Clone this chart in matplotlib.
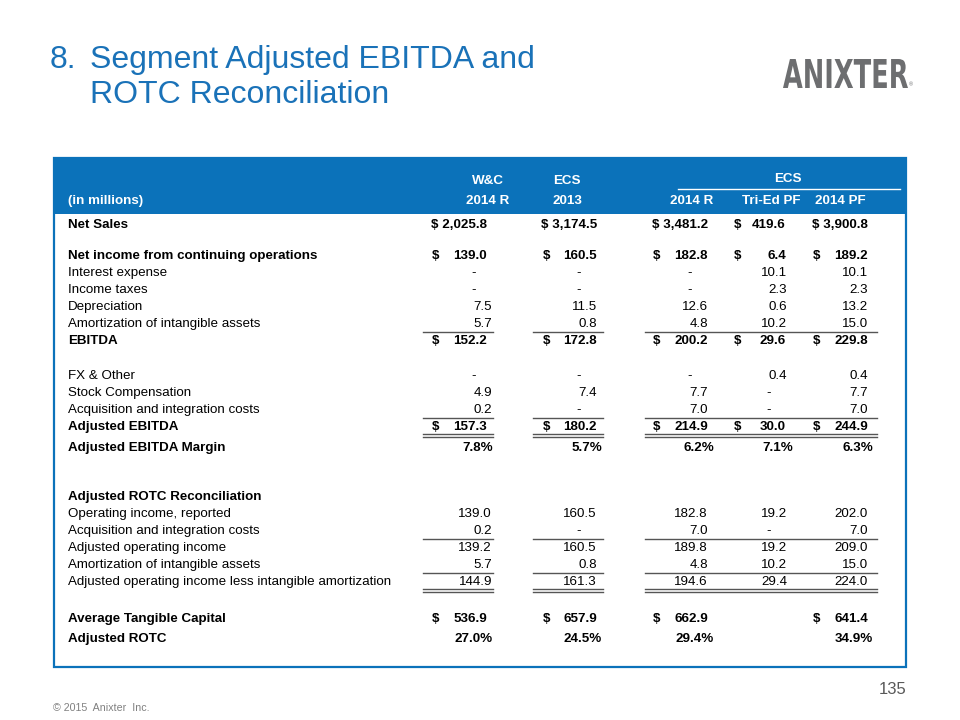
"""Segment Adjusted EBITDA and ROTC reconciliation slide, rebuilt as a matplotlib table"""

import matplotlib.pyplot as plt
from matplotlib.patches import Rectangle, PathPatch
from matplotlib.textpath import TextPath
from matplotlib.font_manager import FontProperties
from matplotlib.transforms import Affine2D

plt.rcParams['font.family'] = ['Liberation Sans', 'DejaVu Sans']

# Data (None = dash, '' = blank cell)
row_labels = ['Net Sales', 'Net income from continuing operations', 'Interest expense', 'Income taxes',
              'Depreciation', 'Amortization of intangible assets', 'EBITDA',
              'FX & Other', 'Stock Compensation', 'Acquisition and integration costs', 'Adjusted EBITDA',
              'Adjusted EBITDA Margin',
              'Adjusted ROTC Reconciliation', 'Operating income, reported', 'Acquisition and integration costs',
              'Adjusted operating income', 'Amortization of intangible assets',
              'Adjusted operating income less intangible amortization',
              'Average Tangible Capital', 'Adjusted ROTC']
wc_2014r = [2025.8, 139.0, None, None, 7.5, 5.7, 152.2, None, 4.9, 0.2, 157.3, 7.8,
            '', 139.0, 0.2, 139.2, 5.7, 144.9, 536.9, 27.0]
ecs_2013 = [3174.5, 160.5, None, None, 11.5, 0.8, 172.8, None, 7.4, None, 180.2, 5.7,
            '', 160.5, None, 160.5, 0.8, 161.3, 657.9, 24.5]
ecs_2014r = [3481.2, 182.8, None, None, 12.6, 4.8, 200.2, None, 7.7, 7.0, 214.9, 6.2,
             '', 182.8, 7.0, 189.8, 4.8, 194.6, 662.9, 29.4]
ecs_tried_pf = [419.6, 6.4, 10.1, 2.3, 0.6, 10.2, 29.6, 0.4, None, None, 30.0, 7.1,
                '', 19.2, None, 19.2, 10.2, 29.4, '', '']
ecs_2014pf = [3900.8, 189.2, 10.1, 2.3, 13.2, 15.0, 229.8, 0.4, 7.7, 7.0, 244.9, 6.3,
              '', 202.0, 7.0, 209.0, 15.0, 224.0, 641.4, 34.9]
columns = [wc_2014r, ecs_2013, ecs_2014r, ecs_tried_pf, ecs_2014pf]

group_labels = ['W&C', 'ECS']
col_labels = ['2014 R', '2013', '2014 R', 'Tri-Ed PF', '2014 PF']

# Row styles
bold_rows = [0, 1, 6, 10, 11, 12, 18, 19]
dollar_rows = [0, 1, 6, 10, 18]
pct_rows = [11, 19]
single_lines = [5, 9, 14, 16]
double_lines = [10, 17]

# Layout (pixels of a 960x720 slide)
row_y = [225, 256, 273, 290, 307, 324, 341, 376, 393, 410, 427, 448,
         497, 514, 531, 548, 565, 582, 619, 639]
num_right = [492, 597, 708, 787, 868]
bold_right = [487, 597, 708, 786, 868]
pct_right = [493, 602, 714, 793, 873]
dollar_x = [432, 543, 653, 734, 813]
line_spans = [(423, 493), (533, 603), (645, 877)]
blue = '#0b72ba'
fs = 9.6

fig = plt.figure(figsize=(9.6, 7.2), dpi=100)
ax = fig.add_axes([0, 0, 1, 1])
ax.set_xlim(0, 960)
ax.set_ylim(720, 0)
ax.axis('off')

# Title
ax.text(50, 68, '8.', fontsize=23, color='#1a72b8', va='baseline')
ax.text(90, 68, 'Segment Adjusted EBITDA and', fontsize=23, color='#1a72b8', va='baseline')
ax.text(90, 103, 'ROTC Reconciliation', fontsize=23, color='#1a72b8', va='baseline')

# Logo drawn as a squeezed text path
logo = TextPath((0, 0), 'ANIXTER', size=40, prop=FontProperties(family='DejaVu Sans', weight='bold'))
ext = logo.get_extents()
tr = Affine2D().translate(-ext.x0, -ext.y0).scale(125 / ext.width, -29 / ext.height).translate(783, 88)
ax.add_patch(PathPatch(tr.transform_path(logo), facecolor='#6d6e70', edgecolor='none'))
ax.text(909, 85, '®', fontsize=4, color='#6d6e70', va='center')

# Table frame and header band
ax.add_patch(Rectangle((54, 158), 852, 509, facecolor='none', edgecolor=blue, linewidth=1.6))
ax.add_patch(Rectangle((54, 158), 852, 56, facecolor=blue, edgecolor='none'))

ax.text(488, 181, group_labels[0], fontsize=fs, color='white', weight='bold', ha='center', va='center')
ax.text(567, 181, group_labels[1], fontsize=fs, color='white', weight='bold', ha='center', va='center')
ax.text(788, 179, group_labels[1], fontsize=fs, color='white', weight='bold', ha='center', va='center')
ax.plot([678, 900], [189, 189], color='white', linewidth=1)
ax.text(68, 201, '(in millions)', fontsize=fs, color='white', weight='bold', va='center')
ax.text(488, 201, col_labels[0], fontsize=fs, color='white', weight='bold', ha='center', va='center')
ax.text(567, 201, col_labels[1], fontsize=fs, color='white', weight='bold', ha='center', va='center')
for lbl, x in zip(col_labels[2:], [713, 800, 866]):
    ax.text(x, 201, lbl, fontsize=fs, color='white', weight='bold', ha='right', va='center')

# Body
for i, lbl in enumerate(row_labels):
    y = row_y[i]
    w = 'bold' if i in bold_rows else 'normal'
    ax.text(68, y, lbl, fontsize=fs, weight=w, va='center')
    for c, col in enumerate(columns):
        v = col[i]
        if v == '':
            continue
        if v is None:
            ax.text(num_right[c] - 18, y, '-', fontsize=fs, ha='center', va='center')
        elif i in pct_rows:
            ax.text(pct_right[c], y, '{:.1f}%'.format(v), fontsize=fs, weight='bold', ha='right', va='center')
        elif i in dollar_rows:
            if v >= 1000:
                ax.text(bold_right[c], y, '$ {:,.1f}'.format(v), fontsize=fs, weight='bold', ha='right', va='center')
            else:
                ax.text(dollar_x[c], y, '$', fontsize=fs, weight='bold', va='center')
                ax.text(bold_right[c], y, '{:.1f}'.format(v), fontsize=fs, weight='bold', ha='right', va='center')
        else:
            ax.text(num_right[c], y, '{:.1f}'.format(v), fontsize=fs, ha='right', va='center')

# Total lines
for i in single_lines:
    for x0, x1 in line_spans:
        ax.plot([x0, x1], [row_y[i] + 8, row_y[i] + 8], color='#555555', linewidth=1)
for i in double_lines:
    for x0, x1 in line_spans:
        ax.plot([x0, x1], [row_y[i] + 7, row_y[i] + 7], color='#555555', linewidth=1)
        ax.plot([x0, x1], [row_y[i] + 10, row_y[i] + 10], color='#555555', linewidth=1)

# Footer
ax.text(53, 708, '© 2015  Anixter  Inc.', fontsize=7.7, color='#808080', va='center')
ax.text(906, 689, '135', fontsize=12, color='#595959', ha='right', va='center')

fig.savefig('out.png', dpi=100)
